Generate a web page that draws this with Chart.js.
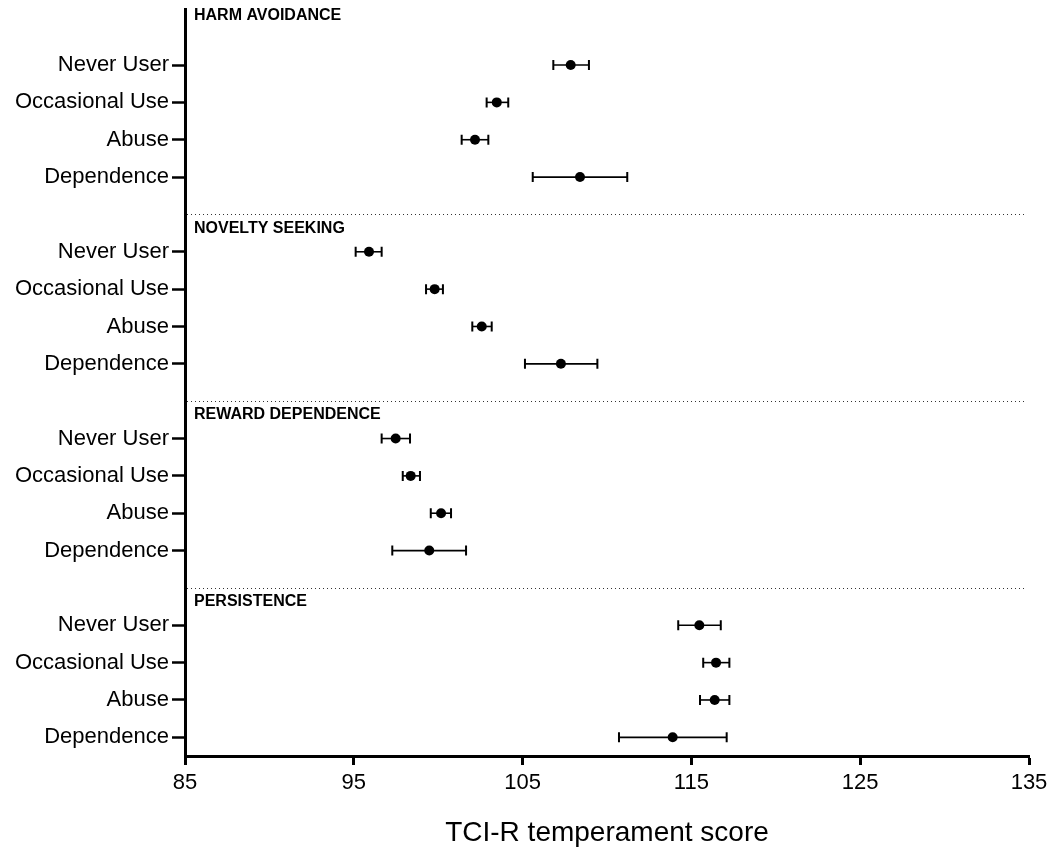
<!DOCTYPE html>
<html>
<head>
<meta charset="utf-8">
<script src="https://cdn.jsdelivr.net/npm/chart.js@4.4.1/dist/chart.umd.min.js"></script>
<style>
  html, body { margin: 0; padding: 0; background: #ffffff; }
  #wrap { position: relative; width: 1056px; height: 856px; }
</style>
</head>
<body>
<div id="wrap"><canvas id="c" width="1056" height="856"></canvas></div>
<script>
// ---- Data ----
const groups = ['Never User', 'Occasional Use', 'Abuse', 'Dependence'];
const sections = ['HARM AVOIDANCE', 'NOVELTY SEEKING', 'REWARD DEPENDENCE', 'PERSISTENCE'];

const haMean = [107.85, 103.47, 102.18, 108.40];
const haLow  = [106.82, 102.87, 101.39, 105.60];
const haHigh = [108.93, 104.15, 102.97, 111.20];

const nsMean = [95.90, 99.79, 102.58, 107.27];
const nsLow  = [95.11, 99.28, 102.02, 105.14];
const nsHigh = [96.65, 100.28, 103.17, 109.43];

const rdMean = [97.48, 98.37, 100.17, 99.47];
const rdLow  = [96.65, 97.90, 99.56, 97.28];
const rdHigh = [98.33, 98.92, 100.76, 101.65];

const peMean = [115.47, 116.46, 116.38, 113.89];
const peLow  = [114.22, 115.70, 115.51, 110.71];
const peHigh = [116.74, 117.25, 117.25, 117.09];

const xTicks = [85, 95, 105, 115, 125, 135];
const xTitle = 'TCI-R temperament score';

// ---- Build ----
const means = [haMean, nsMean, rdMean, peMean];
const lows = [haLow, nsLow, rdLow, peLow];
const highs = [haHigh, nsHigh, rdHigh, peHigh];
const SLOT = groups.length + 1;           // rows per section incl. separator slot
const rowPos = (s, g) => s * SLOT + g + 1;
const points = [], errs = [], rowTicks = [], rowLabels = {};
means.forEach((arr, s) => arr.forEach((m, g) => {
  const y = rowPos(s, g);
  points.push({ x: m, y: y });
  errs.push({ y: y, lo: lows[s][g], hi: highs[s][g] });
  rowTicks.push(y);
  rowLabels[y] = groups[g];
}));
const separators = [1, 2, 3].map(s => s * SLOT);

Chart.defaults.font.family = "'Liberation Sans', Arial, Helvetica, sans-serif";
Chart.defaults.color = '#000';

const errorBars = {
  id: 'errorBars',
  beforeDatasetsDraw(chart) {
    const ctx = chart.ctx, xs = chart.scales.x, ys = chart.scales.y;
    ctx.save();
    // separators
    ctx.lineWidth = 1;
    ctx.setLineDash([1, 3]);
    ctx.strokeStyle = '#333';
    separators.forEach(v => {
      const py = Math.round(ys.getPixelForValue(v)) + 0.5;
      ctx.beginPath();
      ctx.moveTo(chart.chartArea.left + 2, py);
      ctx.lineTo(chart.chartArea.right - 5, py);
      ctx.stroke();
    });
    ctx.setLineDash([]);
    ctx.strokeStyle = '#000';
    // error bars
    errs.forEach(e => {
      const py = ys.getPixelForValue(e.y);
      const x1 = xs.getPixelForValue(e.lo), x2 = xs.getPixelForValue(e.hi);
      ctx.lineWidth = 1.6;
      ctx.beginPath();
      ctx.moveTo(x1, py); ctx.lineTo(x2, py);
      ctx.stroke();
      ctx.lineWidth = 2;
      ctx.beginPath();
      ctx.moveTo(x1, py - 5); ctx.lineTo(x1, py + 5);
      ctx.moveTo(x2, py - 5); ctx.lineTo(x2, py + 5);
      ctx.stroke();
    });
    // section titles
    ctx.font = "bold 16px 'Liberation Sans', Arial, sans-serif";
    ctx.fillStyle = '#000';
    ctx.textAlign = 'left';
    ctx.textBaseline = 'middle';
    sections.forEach((t, s) => {
      const v = s === 0 ? -0.33 : s * SLOT + 0.37;
      ctx.fillText(t, chart.chartArea.left + 9, ys.getPixelForValue(v));
    });
    ctx.restore();
  }
};

new Chart(document.getElementById('c'), {
  type: 'scatter',
  data: {
    datasets: [{
      data: points,
      pointRadius: 5,
      pointHoverRadius: 5,
      backgroundColor: '#000',
      borderColor: '#000',
      borderWidth: 0,
      showLine: false
    }]
  },
  options: {
    responsive: false,
    animation: false,
    events: [],
    layout: { padding: { top: 9, right: 27, bottom: 0, left: 0 } },
    plugins: { legend: { display: false }, tooltip: { enabled: false } },
    scales: {
      x: {
        type: 'linear',
        min: xTicks[0],
        max: xTicks[xTicks.length - 1],
        afterBuildTicks: s => { s.ticks = xTicks.map(v => ({ value: v })); },
        afterFit: s => { s.height = 100; },
        border: { display: true, color: '#000', width: 3 },
        grid: { display: true, drawOnChartArea: false, drawTicks: true, tickLength: 9, tickWidth: 3, tickColor: '#000' },
        ticks: { font: { size: 22 }, color: '#000', padding: 5 },
        title: { display: true, text: xTitle, font: { size: 28 }, color: '#000', padding: { top: 0, bottom: 6 } }
      },
      y: {
        type: 'linear',
        reverse: true,
        min: -0.5,
        max: SLOT * sections.length - 0.5,
        afterBuildTicks: s => { s.ticks = rowTicks.map(v => ({ value: v })); },
        afterFit: s => { s.width = 185; s.paddingTop = 0; s.paddingBottom = 0; },
        border: { display: true, color: '#000', width: 3 },
        grid: { display: true, drawOnChartArea: false, drawTicks: true, tickLength: 13, tickWidth: 2.5, tickColor: '#000' },
        ticks: { font: { size: 22 }, color: '#000', padding: 3, callback: v => rowLabels[v] || '' }
      }
    }
  },
  plugins: [errorBars]
});
</script>
</body>
</html>
